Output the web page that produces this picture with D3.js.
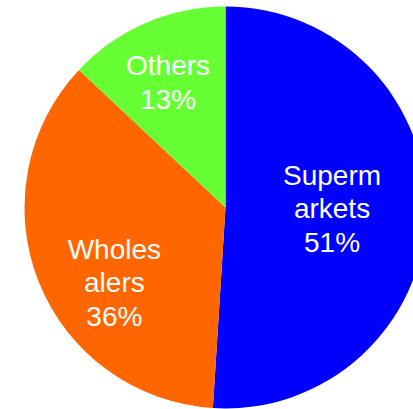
<!DOCTYPE html>
<html>
<head>
<meta charset="utf-8">
<script src="https://cdn.jsdelivr.net/npm/d3@7"></script>
<style>
  html, body { margin: 0; padding: 0; background: #ffffff; overflow: hidden; }
  svg { display: block; }
</style>
</head>
<body>
<svg id="chart" width="413" height="409"></svg>
<script>
// Sales channel shares
const categories = ["Supermarkets", "Wholesalers", "Others"];
const shares = [51, 36, 13];
const labelLines = [["Superm", "arkets"], ["Wholes", "alers"], ["Others"]];
const colors = ["#0000FF", "#FF6600", "#66FF33"];

// Label placement: fraction of radius and angular nudge (degrees)
const labelRadiusFrac = [0.53, 0.667, 0.687];
const labelAngleNudge = [-1.3, -12.4, -1.2];

const W = 413, H = 409;
const cx = 225.5, cy = 207.5, R = 201;
const fontSize = 28, lineHeight = 33.5;

const svg = d3.select("#chart");
const g = svg.append("g").attr("transform", `translate(${cx},${cy})`);

const pie = d3.pie().sort(null).value(d => d.value).startAngle(0).endAngle(2 * Math.PI);
const data = categories.map((c, i) => ({ name: c, value: shares[i], i }));
const arcs = pie(data);

const arc = d3.arc().innerRadius(0).outerRadius(R);

g.selectAll("path.slice")
  .data(arcs)
  .join("path")
  .attr("class", "slice")
  .attr("d", arc)
  .attr("fill", d => colors[d.data.i]);

const labels = g.selectAll("text.lbl")
  .data(arcs)
  .join("text")
  .attr("class", "lbl")
  .attr("text-anchor", "middle")
  .attr("fill", "#ffffff")
  .style("font-family", "'Liberation Sans', Arial, sans-serif")
  .style("font-size", fontSize + "px")
  .each(function(d) {
    const i = d.data.i;
    const mid = (d.startAngle + d.endAngle) / 2 + labelAngleNudge[i] * Math.PI / 180;
    const r = labelRadiusFrac[i] * R;
    const x = r * Math.sin(mid);
    const y = -r * Math.cos(mid);
    const lines = labelLines[i].concat([d3.format(".0f")(d.data.value) + "%"]);
    const firstBase = y - (lines.length - 1) * lineHeight / 2 + fontSize * 0.716 / 2;
    const t = d3.select(this);
    lines.forEach((ln, k) => {
      t.append("tspan")
        .attr("x", x)
        .attr("y", firstBase + k * lineHeight)
        .text(ln);
    });
  });
</script>
</body>
</html>
